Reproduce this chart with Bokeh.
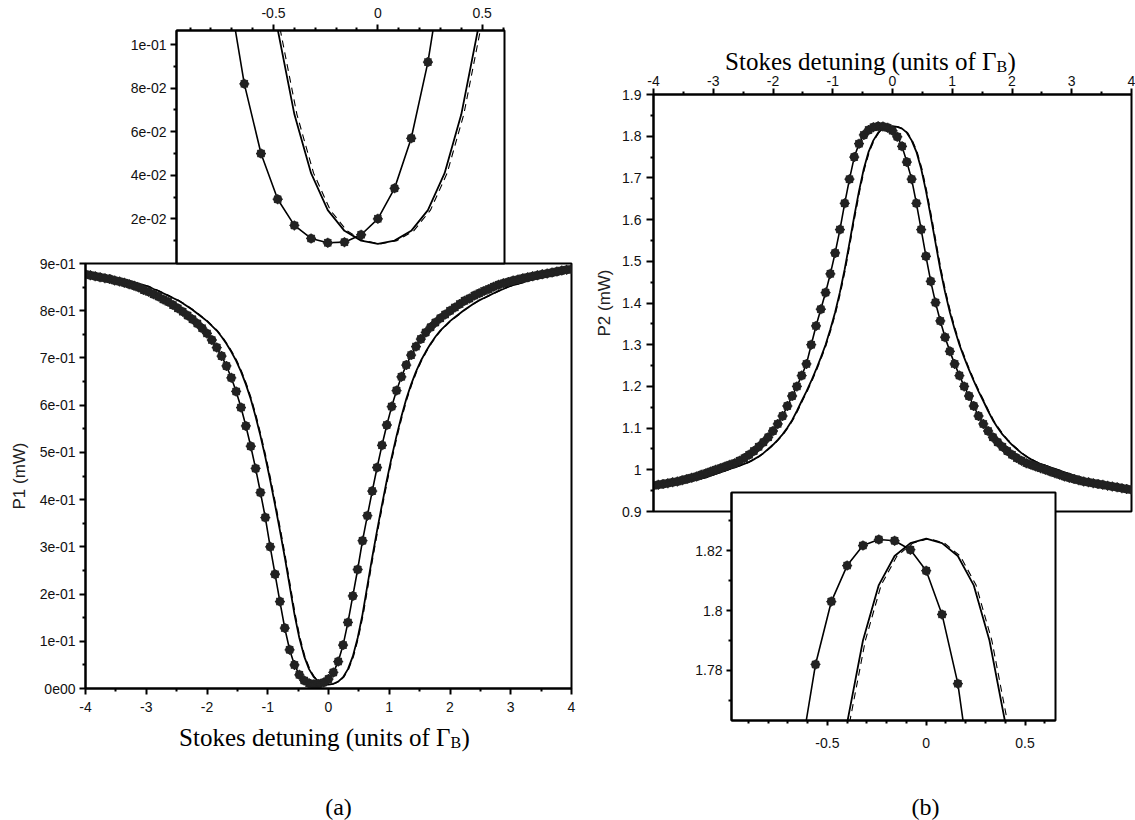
from bokeh.plotting import figure
from bokeh.models import FixedTicker, Label, Range1d, ColumnDataSource
from bokeh.transform import dodge
from bokeh.embed import file_html
from bokeh.resources import INLINE

# ---------------- data ----------------
detuning = [
    -4.00, -3.92, -3.84, -3.76, -3.68, -3.60, -3.52, -3.44, -3.36, -3.28,
    -3.20, -3.12, -3.04, -2.96, -2.88, -2.80, -2.72, -2.64, -2.56, -2.48,
    -2.40, -2.32, -2.24, -2.16, -2.08, -2.00, -1.92, -1.84, -1.76, -1.68,
    -1.60, -1.52, -1.44, -1.36, -1.28, -1.20, -1.12, -1.04, -0.96, -0.88,
    -0.80, -0.72, -0.64, -0.56, -0.48, -0.40, -0.32, -0.24, -0.16, -0.08,
    0.00, 0.08, 0.16, 0.24, 0.32, 0.40, 0.48, 0.56, 0.64, 0.72,
    0.80, 0.88, 0.96, 1.04, 1.12, 1.20, 1.28, 1.36, 1.44, 1.52,
    1.60, 1.68, 1.76, 1.84, 1.92, 2.00, 2.08, 2.16, 2.24, 2.32,
    2.40, 2.48, 2.56, 2.64, 2.72, 2.80, 2.88, 2.96, 3.04, 3.12,
    3.20, 3.28, 3.36, 3.44, 3.52, 3.60, 3.68, 3.76, 3.84, 3.92,
    4.00,
]

p1_measured = [
    0.877, 0.875, 0.873, 0.871, 0.869, 0.867, 0.864, 0.862, 0.859, 0.856,
    0.853, 0.849, 0.844, 0.840, 0.835, 0.830, 0.824, 0.819, 0.812, 0.805,
    0.798, 0.790, 0.782, 0.773, 0.763, 0.752, 0.738, 0.722, 0.704, 0.683,
    0.658, 0.629, 0.595, 0.556, 0.513, 0.466, 0.415, 0.362, 0.300, 0.242,
    0.184, 0.128, 0.082, 0.050, 0.029, 0.017, 0.011, 0.009, 0.0093, 0.0127,
    0.020, 0.034, 0.057, 0.092, 0.140, 0.196, 0.252, 0.313, 0.366, 0.418,
    0.468, 0.515, 0.558, 0.597, 0.631, 0.660, 0.685, 0.706, 0.724, 0.740,
    0.754, 0.765, 0.775, 0.784, 0.792, 0.800, 0.807, 0.814, 0.821, 0.826,
    0.832, 0.837, 0.842, 0.846, 0.851, 0.855, 0.858, 0.861, 0.864, 0.866,
    0.869, 0.871, 0.873, 0.875, 0.877, 0.879, 0.881, 0.883, 0.885, 0.887,
    0.888,
]

p1_model = [
    0.882, 0.880, 0.878, 0.876, 0.874, 0.872, 0.870, 0.868, 0.866, 0.863,
    0.860, 0.857, 0.854, 0.851, 0.846, 0.842, 0.837, 0.832, 0.827, 0.822,
    0.816, 0.809, 0.802, 0.794, 0.786, 0.778, 0.768, 0.758, 0.745, 0.730,
    0.713, 0.694, 0.671, 0.644, 0.613, 0.576, 0.535, 0.490, 0.441, 0.389,
    0.335, 0.278, 0.218, 0.157, 0.107, 0.068, 0.041, 0.024, 0.0145, 0.0100,
    0.0085,
    0.0100, 0.0145, 0.024, 0.041, 0.068, 0.107, 0.157, 0.218, 0.278, 0.335,
    0.389, 0.441, 0.490, 0.535, 0.576, 0.613, 0.644, 0.671, 0.694, 0.713,
    0.730, 0.745, 0.758, 0.768, 0.778, 0.786, 0.794, 0.802, 0.809, 0.816,
    0.822, 0.827, 0.832, 0.837, 0.842, 0.846, 0.851, 0.854, 0.857, 0.860,
    0.863, 0.866, 0.868, 0.870, 0.872, 0.874, 0.876, 0.878, 0.880, 0.882,
]

p2_measured = [
    0.962, 0.964, 0.966, 0.968, 0.970, 0.972, 0.975, 0.978, 0.981, 0.984,
    0.988, 0.992, 0.996, 1.000, 1.004, 1.008, 1.012, 1.016, 1.022, 1.028,
    1.036, 1.045, 1.055, 1.066, 1.078, 1.093, 1.110, 1.129, 1.153, 1.177,
    1.200, 1.226, 1.254, 1.300, 1.345, 1.385, 1.425, 1.470, 1.520, 1.576,
    1.639, 1.697, 1.750, 1.782, 1.803, 1.815, 1.8217, 1.8237,
    1.8233, 1.8203, 1.8133, 1.7987, 1.7756, 1.738, 1.697, 1.639, 1.576, 1.512,
    1.452, 1.401, 1.357, 1.318, 1.284, 1.254, 1.226, 1.200, 1.177, 1.153,
    1.129, 1.110, 1.093, 1.078, 1.066, 1.055, 1.045, 1.036, 1.028, 1.022,
    1.016, 1.012, 1.008, 1.004, 1.000, 0.996, 0.992, 0.988, 0.984, 0.981,
    0.978, 0.975, 0.972, 0.970, 0.968, 0.966, 0.964, 0.962, 0.960, 0.958,
    0.956, 0.954, 0.952,
]

p2_model = [
    0.957, 0.959, 0.961, 0.963, 0.965, 0.967, 0.969, 0.971, 0.974, 0.976,
    0.979, 0.982, 0.986, 0.990, 0.994, 0.998, 1.002, 1.006, 1.010, 1.014,
    1.019, 1.025, 1.032, 1.040, 1.050, 1.060, 1.072, 1.085, 1.101, 1.119,
    1.141, 1.165, 1.188, 1.213, 1.240, 1.269, 1.300, 1.337, 1.378, 1.426,
    1.481, 1.544, 1.608, 1.669, 1.722, 1.7625, 1.790, 1.8085, 1.8182, 1.8225,
    1.824,
    1.8225, 1.8182, 1.8085, 1.790, 1.7625, 1.722, 1.669, 1.608, 1.544, 1.481,
    1.426, 1.378, 1.337, 1.300, 1.269, 1.240, 1.213, 1.188, 1.165, 1.141,
    1.119, 1.101, 1.085, 1.072, 1.060, 1.050, 1.040, 1.032, 1.025, 1.019,
    1.014, 1.010, 1.006, 1.002, 0.998, 0.994, 0.990, 0.986, 0.982, 0.979,
    0.976, 0.974, 0.971, 0.969, 0.967, 0.965, 0.963, 0.961, 0.959, 0.957,
]

# ---------------- ticks ----------------
main_x_ticks = [-4, -3, -2, -1, 0, 1, 2, 3, 4]
main_x_labels = ["-4", "-3", "-2", "-1", "0", "1", "2", "3", "4"]
main_x_minor = [-3.5, -2.5, -1.5, -0.5, 0.5, 1.5, 2.5, 3.5]

p1_ticks = [0, 0.1, 0.2, 0.3, 0.4, 0.5, 0.6, 0.7, 0.8, 0.9]
p1_labels = ["0e00", "1e-01", "2e-01", "3e-01", "4e-01", "5e-01",
             "6e-01", "7e-01", "8e-01", "9e-01"]
p1_minor = [0.05, 0.15, 0.25, 0.35, 0.45, 0.55, 0.65, 0.75, 0.85]

p1_inset_ticks = [0.02, 0.04, 0.06, 0.08, 0.1]
p1_inset_labels = ["2e-02", "4e-02", "6e-02", "8e-02", "1e-01"]
p1_inset_minor = [0.01, 0.03, 0.05, 0.07, 0.09]

inset_x_ticks = [-0.5, 0, 0.5]
inset_x_labels = ["-0.5", "0", "0.5"]
inset_x_minor = [-0.9, -0.8, -0.7, -0.6, -0.4, -0.3, -0.2, -0.1,
                 0.1, 0.2, 0.3, 0.4, 0.6]

p2_ticks = [0.9, 1, 1.1, 1.2, 1.3, 1.4, 1.5, 1.6, 1.7, 1.8, 1.9]
p2_labels = ["0.9", "1", "1.1", "1.2", "1.3", "1.4", "1.5", "1.6",
             "1.7", "1.8", "1.9"]
p2_minor = [0.95, 1.05, 1.15, 1.25, 1.35, 1.45, 1.55, 1.65, 1.75, 1.85]

p2_inset_ticks = [1.78, 1.8, 1.82]
p2_inset_labels = ["1.78", "1.8", "1.82"]
p2_inset_minor = [1.77, 1.79, 1.81, 1.83]

x_title = "Stokes detuning (units of \u0393"
x_title_sub = "B"
panel_tags = ["(a)", "(b)"]

src1 = ColumnDataSource(dict(x=detuning, meas=p1_measured, fit=p1_model))
src2 = ColumnDataSource(dict(x=detuning, meas=p2_measured, fit=p2_model))

SANS = "Liberation Sans"
SERIF = "Liberation Serif"
INK = "#111111"


def make_fig(xr, yr, fw, fh, left, right, top, bottom, x_loc, pos, z):
    p = figure(x_range=Range1d(*xr), y_range=Range1d(*yr),
               width=left + fw + right, height=top + fh + bottom,
               frame_width=fw, frame_height=fh,
               min_border_left=left, min_border_right=right,
               min_border_top=top, min_border_bottom=bottom,
               x_axis_location=x_loc, toolbar_location=None, tools="",
               output_backend="svg")
    p.styles = {"position": "absolute", "left": "%dpx" % pos[0],
                "top": "%dpx" % pos[1], "z-index": str(z)}
    p.grid.visible = False
    p.outline_line_color = "black"
    p.outline_line_width = 2
    p.background_fill_color = "white"
    p.border_fill_color = None
    return p


def style_axis(ax, ticks, labels, minor, standoff, tick_out=6):
    ax.ticker = FixedTicker(ticks=ticks, minor_ticks=minor)
    ax.major_label_overrides = dict(zip(ticks, labels))
    ax.axis_line_width = 2
    ax.axis_line_color = "black"
    ax.major_tick_line_width = 2
    ax.minor_tick_line_width = 2
    ax.major_tick_line_color = "black"
    ax.minor_tick_line_color = "black"
    ax.major_tick_out = tick_out
    ax.major_tick_in = 0
    ax.minor_tick_out = 3
    ax.minor_tick_in = 0
    ax.major_label_text_font = SANS
    ax.major_label_text_font_size = "14px"
    ax.major_label_text_color = INK
    ax.major_label_standoff = standoff


def draw_curves(p, src):
    p.line("x", "fit", source=src, line_color="black", line_width=1.8)
    p.line(x=dodge("x", 0.012), y="fit", source=src, line_color="black",
           line_width=1.1, line_dash="7 5")
    p.line("x", "meas", source=src, line_color="black", line_width=1.6)
    p.scatter("x", "meas", source=src, marker="circle", size=9,
              fill_color="#222222", line_color=None)
    p.scatter("x", "meas", source=src, marker="asterisk", size=10,
              line_color="#222222", line_width=1.3)


def style_ylabel(ax, text, standoff):
    ax.axis_label = text
    ax.axis_label_text_font = SANS
    ax.axis_label_text_font_size = "17px"
    ax.axis_label_text_font_style = "normal"
    ax.axis_label_text_color = "#222222"
    ax.axis_label_standoff = standoff


# ---------------- panel (a) ----------------
main_a = make_fig((-4, 4), (0, 0.9), 486, 425, 85, 19, 10, 20, "below",
                  (0, 253), 1)
style_axis(main_a.xaxis[0], main_x_ticks, main_x_labels, main_x_minor, 7)
style_axis(main_a.yaxis[0], p1_ticks, p1_labels, p1_minor, 4)
style_ylabel(main_a.yaxis[0], "P1 (mW)", 8)
draw_curves(main_a, src1)

inset_a = make_fig((-0.965, 0.607), (-0.0005, 0.1065), 328, 233,
                   176, 10, 30, 2, "above", (0, 0), 2)
style_axis(inset_a.xaxis[0], inset_x_ticks, inset_x_labels, inset_x_minor, 7)
style_axis(inset_a.yaxis[0], p1_inset_ticks, p1_inset_labels, p1_inset_minor, 4)
draw_curves(inset_a, src1)

# ---------------- panel (b) ----------------
main_b = make_fig((-4, 4), (0.9, 1.9), 478, 417, 63, 4, 94, 12, "above",
                  (590, 0), 1)
style_axis(main_b.xaxis[0], main_x_ticks, main_x_labels, main_x_minor, 3)
style_axis(main_b.yaxis[0], p2_ticks, p2_labels, p2_minor, 5, tick_out=7)
style_ylabel(main_b.yaxis[0], "P2 (mW)", 5)
draw_curves(main_b, src2)

inset_b = make_fig((-0.985, 0.654), (1.7633, 1.8394), 324, 228,
                   141, 10, 2, 40, "below", (590, 490), 2)
style_axis(inset_b.xaxis[0], inset_x_ticks, inset_x_labels, inset_x_minor, 12, tick_out=5)
style_axis(inset_b.yaxis[0], p2_inset_ticks, p2_inset_labels, p2_inset_minor, 4, tick_out=5)
draw_curves(inset_b, src2)

# ---------------- text layer (page pixel coordinates) ----------------
text_layer = figure(x_range=Range1d(0, 1135), y_range=Range1d(820, 0),
                    width=1135, height=820, min_border=0,
                    x_axis_location=None, y_axis_location=None,
                    toolbar_location=None, tools="", output_backend="svg")
text_layer.styles = {"position": "absolute", "left": "0px", "top": "0px",
                     "z-index": "5"}
text_layer.grid.visible = False
text_layer.outline_line_color = None
text_layer.background_fill_color = None
text_layer.border_fill_color = None


def add_title(p, x_end, base):
    p.add_layout(Label(x=x_end, y=base, text=x_title, text_align="right",
                       text_baseline="alphabetic", text_font=SERIF,
                       text_font_size="25px", text_color="black"))
    p.add_layout(Label(x=x_end, y=base + 5, text=x_title_sub,
                       text_align="left", text_baseline="alphabetic",
                       text_font=SERIF, text_font_size="16px",
                       text_color="black"))
    p.add_layout(Label(x=x_end + 11, y=base, text=")", text_align="left",
                       text_baseline="alphabetic", text_font=SERIF,
                       text_font_size="25px", text_color="black"))


add_title(text_layer, 450, 737)
add_title(text_layer, 996, 61)
for tag, cx in zip(panel_tags, [338, 925]):
    text_layer.add_layout(Label(x=cx, y=806, text=tag, text_align="center",
                                text_baseline="alphabetic", text_font=SERIF,
                                text_font_size="24px", text_color="black"))

figures = [main_a, inset_a, main_b, inset_b, text_layer]

open("out.html", "w").write(file_html(figures, INLINE))
